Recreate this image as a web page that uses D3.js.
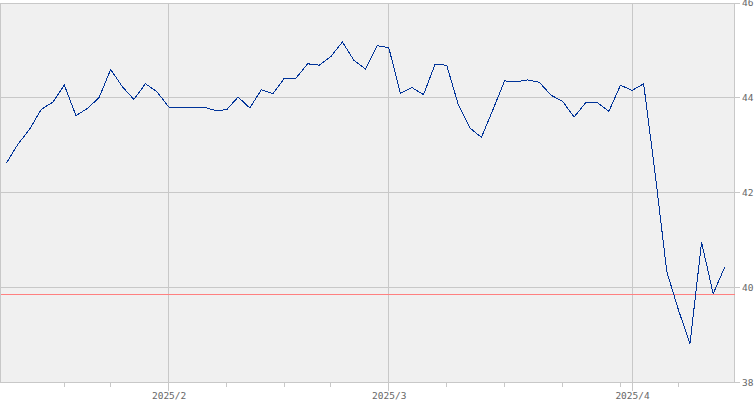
<!DOCTYPE html>
<html><head><meta charset="utf-8">
<script src="https://cdn.jsdelivr.net/npm/d3@7/dist/d3.min.js"></script>
<style>
html,body{margin:0;padding:0;background:#fff;}
svg{display:block;}
text{font-family:"DejaVu Sans Mono","Liberation Mono",monospace;font-size:9.5px;fill:#666;}
</style></head>
<body>
<svg id="chart" width="755" height="400"></svg>
<script>
const dates = [
 "2025-01-13","2025-01-14","2025-01-15","2025-01-16","2025-01-17",
 "2025-01-21","2025-01-22","2025-01-23","2025-01-24",
 "2025-01-27","2025-01-28","2025-01-29","2025-01-30","2025-01-31",
 "2025-02-03","2025-02-04","2025-02-05","2025-02-06","2025-02-07",
 "2025-02-10","2025-02-11","2025-02-12","2025-02-13","2025-02-14",
 "2025-02-18","2025-02-19","2025-02-20","2025-02-21",
 "2025-02-24","2025-02-25","2025-02-26","2025-02-27","2025-02-28",
 "2025-03-03","2025-03-04","2025-03-05","2025-03-06","2025-03-07",
 "2025-03-10","2025-03-11","2025-03-12","2025-03-13","2025-03-14",
 "2025-03-17","2025-03-18","2025-03-19","2025-03-20","2025-03-21",
 "2025-03-24","2025-03-25","2025-03-26","2025-03-27","2025-03-28",
 "2025-03-31","2025-04-01","2025-04-02","2025-04-03","2025-04-04",
 "2025-04-07","2025-04-08","2025-04-09","2025-04-10","2025-04-11"
];
const prices = [
 42.62, 43.02, 43.33, 43.75, 43.90, 44.26, 43.62, 43.77, 44.00, 44.59,
 44.23, 43.96, 44.29, 44.12, 43.80, 43.78, 43.80, 43.80, 43.73, 43.74,
 44.01, 43.78, 44.16, 44.08, 44.41, 44.41, 44.71, 44.68, 44.86, 45.17,
 44.78, 44.60, 45.09, 45.05, 44.09, 44.21, 44.06, 44.70, 44.68, 43.85,
 43.36, 43.16, 43.75, 44.35, 44.33, 44.37, 44.32, 44.05, 43.92, 43.59,
 43.89, 43.89, 43.71, 44.26, 44.15, 44.29, 42.38, 40.33, 39.53, 38.82,
 40.95, 39.87, 40.43
];
const referenceLevel = [39.86];
const yTicks = [38, 40, 42, 44, 46];
const yDomain = [38, 46];

const svg = d3.select("#chart");
const L = 0.5, R = 734.5, T = 3.5, B = 382.5;

const x = d3.scalePoint().domain(dates).range([6.42, 724.75]);
const y = d3.scaleLinear().domain(yDomain).range([382.5, 2.5]);
const crisp = v => Math.floor(v) + 0.5;

// week starts (excluding first) and month starts
const parse = d3.timeParse("%Y-%m-%d");
const weekStarts = dates.filter((d, i) => i > 0 &&
  d3.timeMonday.floor(parse(d)).getTime() !== d3.timeMonday.floor(parse(dates[i-1])).getTime());
const monthStarts = dates.filter((d, i) => i > 0 && parse(d).getMonth() !== parse(dates[i-1]).getMonth());
const fmtMonth = d => { const t = parse(d); return t.getFullYear() + "/" + (t.getMonth()+1); };

// plot background
svg.append("rect").attr("x", L).attr("y", T).attr("width", R - L).attr("height", B - T)
  .attr("fill", "#f0f0f0").attr("stroke", "#c8c8c8").attr("shape-rendering", "crispEdges");

const g = svg.append("g").attr("shape-rendering", "crispEdges");
// horizontal gridlines
g.selectAll(".hg").data(yTicks.filter(v => v > yDomain[0] && v < yDomain[1])).join("line")
  .attr("x1", L).attr("x2", R)
  .attr("y1", d => crisp(y(d))).attr("y2", d => crisp(y(d)))
  .attr("stroke", "#c8c8c8");
// vertical month gridlines (extend below)
g.selectAll(".vg").data(monthStarts).join("line")
  .attr("x1", d => crisp(x(d))).attr("x2", d => crisp(x(d)))
  .attr("y1", T).attr("y2", 390.5)
  .attr("stroke", "#c8c8c8");
// weekly minor ticks
g.selectAll(".wt").data(weekStarts.filter(d => !monthStarts.includes(d))).join("line")
  .attr("x1", d => crisp(x(d))).attr("x2", d => crisp(x(d)))
  .attr("y1", B).attr("y2", 386.5)
  .attr("stroke", "#c8c8c8");
// right ticks
g.selectAll(".rt").data(yTicks).join("line")
  .attr("x1", R).attr("x2", 739.5)
  .attr("y1", d => d === yDomain[1] ? T : crisp(y(d)))
  .attr("y2", d => d === yDomain[1] ? T : crisp(y(d)))
  .attr("stroke", "#c8c8c8");

// y labels
svg.selectAll(".yl").data(yTicks).join("text")
  .attr("x", 742).attr("y", d => (d === yDomain[1] ? 3 : y(d)) + 3.4)
  .text(d => d);
// x labels
svg.selectAll(".xl").data(monthStarts).join("text")
  .attr("x", d => x(d) + 0.5).attr("y", 399)
  .attr("text-anchor", "middle")
  .text(fmtMonth);

// reference line
svg.selectAll(".ref").data(referenceLevel).join("line")
  .attr("x1", L + 0.5).attr("x2", R)
  .attr("y1", d => crisp(y(d))).attr("y2", d => crisp(y(d)))
  .attr("stroke", "#ff8080").attr("shape-rendering", "crispEdges");

// price line
const line = d3.line().x((d, i) => x(dates[i])).y(d => y(d));
svg.append("path").datum(prices).attr("d", line)
  .attr("fill", "none").attr("stroke", "#003399").attr("stroke-width", 1)
  .attr("shape-rendering", "crispEdges");
</script>
</body></html>
